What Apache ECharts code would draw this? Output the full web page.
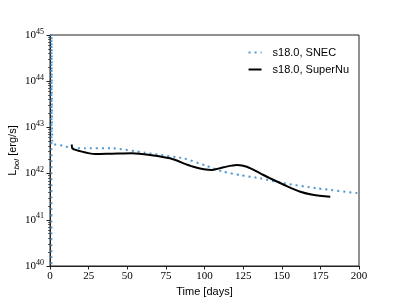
<!DOCTYPE html>
<html>
<head>
<meta charset="utf-8">
<script src="https://cdn.jsdelivr.net/npm/echarts@6/dist/echarts.min.js"></script>
<style>html,body{margin:0;padding:0;background:#fff}#c{width:399px;height:299px}</style>
</head>
<body>
<div id="c"></div>
<script>
// SNEC (dotted blue)
var snecT = [0.9, 1.0, 1.5, 9.7, 14.1, 22.7, 40, 61.6, 68, 86.4, 101.5, 112.3, 123.1, 136.1, 151.2, 172.8, 200];
var snecL = [1e39, 1e46, 4.67e42, 3.95e42, 3.53e42, 3.53e42, 3.53e42, 2.83e42, 2.62e42, 2.14e42, 1.46e42, 1.10e42, 9.3e41, 7.9e41, 6.2e41, 4.8e41, 3.75e41];
// SuperNu (solid black)
var snT = [14.1, 14.4, 18.3, 29.2, 40, 52.9, 64.8, 77.7, 92.8, 104.8, 112.3, 121, 127.4, 136.1, 142.5, 152, 162, 170, 181.4];
var snL = [4.29e42, 3.53e42, 3.13e42, 2.66e42, 2.70e42, 2.75e42, 2.53e42, 2.14e42, 1.41e42, 1.20e42, 1.37e42, 1.53e42, 1.41e42, 1.01e42, 7.9e41, 5.6e41, 4.06e41, 3.5e41, 3.16e41];
var seriesNames = ['s18.0, SNEC', 's18.0, SuperNu'];
var xTicks = [0, 25, 50, 75, 100, 125, 150, 175, 200];
var yExpMin = 40, yExpMax = 45;

var minorVals = [];
for (var n = yExpMin; n < yExpMax; n++) for (var k = 2; k <= 9; k++) minorVals.push(k * Math.pow(10, n));

function pairs(t, l) { return t.map(function (v, i) { return [v, l[i]]; }); }

var chart = echarts.init(document.getElementById('c'), null, {renderer: 'canvas'});
var serif = 'Liberation Serif';
var sans = 'Liberation Sans';
chart.setOption({
  animation: false,
  backgroundColor: '#fff',
  grid: {left: 50, right: 40, top: 35, bottom: 33, show: true, borderColor: '#222', borderWidth: 1,
         containLabel: false, outerBoundsMode: 'none'},
  legend: {
    orient: 'vertical', right: 50, top: 47, padding: 0, itemGap: 6, itemWidth: 13, itemHeight: 10,
    textStyle: {fontFamily: sans, fontSize: 11, color: '#000', padding: [0, 0, 0, 6]},
    itemStyle: {opacity: 0, borderWidth: 0},
    data: seriesNames
  },
  xAxis: {
    type: 'value', min: 0, max: 200, interval: 25,
    name: 'Time [days]', nameLocation: 'middle', nameGap: 20, nameMoveOverlap: false,
    nameTextStyle: {fontFamily: sans, fontSize: 11, color: '#000'},
    axisLine: {lineStyle: {color: '#222', width: 1}},
    axisTick: {show: true, inside: false, length: 3.5, lineStyle: {color: '#222'}},
    axisLabel: {fontFamily: serif, fontSize: 11, color: '#000', margin: 5},
    splitLine: {show: false}
  },
  yAxis: [{
    type: 'log', logBase: 10, min: Math.pow(10, yExpMin), max: Math.pow(10, yExpMax),
    name: '{a|L}{s|bol}{a| [erg/s]}', nameLocation: 'middle', nameRotate: 90, nameGap: 32, nameMoveOverlap: false,
    nameTextStyle: {rich: {
      a: {fontFamily: sans, fontSize: 11, color: '#000'},
      s: {fontFamily: sans, fontSize: 8, fontStyle: 'italic', color: '#000', verticalAlign: 'bottom', padding: [0, 0, -3, 0]}
    }},
    axisLine: {show: true, lineStyle: {color: '#222', width: 1}},
    axisTick: {show: true, inside: false, length: 3.5, lineStyle: {color: '#222'}},
    axisLabel: {
      margin: 6,
      formatter: function (v) { return '{b|10}{e|' + Math.round(Math.log10(v)) + '}'; },
      rich: {
        b: {fontFamily: serif, fontSize: 11, color: '#000'},
        e: {fontFamily: serif, fontSize: 8, color: '#000', verticalAlign: 'top', padding: [0, 0, 7, 0]}
      }
    },
    splitLine: {show: false}
  }, {
    type: 'log', logBase: 10, min: Math.pow(10, yExpMin), max: Math.pow(10, yExpMax), position: 'left',
    axisLine: {show: false},
    axisTick: {show: true, inside: false, length: 2, customValues: minorVals, lineStyle: {color: '#222', width: 0.7}},
    axisLabel: {show: false},
    splitLine: {show: false}
  }],
  series: [{
    name: seriesNames[0], type: 'line', xAxisIndex: 0, yAxisIndex: 0,
    data: pairs(snecT, snecL), showSymbol: false, symbol: 'none', smooth: 0.2, clip: true,
    lineStyle: {color: '#4f98d0', width: 2, type: [2, 4]},
    itemStyle: {color: '#4f98d0'}
  }, {
    name: seriesNames[1], type: 'line', xAxisIndex: 0, yAxisIndex: 0,
    data: pairs(snT, snL), showSymbol: false, symbol: 'none', smooth: 0.3, clip: true,
    lineStyle: {color: '#000', width: 2},
    itemStyle: {color: '#000'}
  }]
});
</script>
</body>
</html>
